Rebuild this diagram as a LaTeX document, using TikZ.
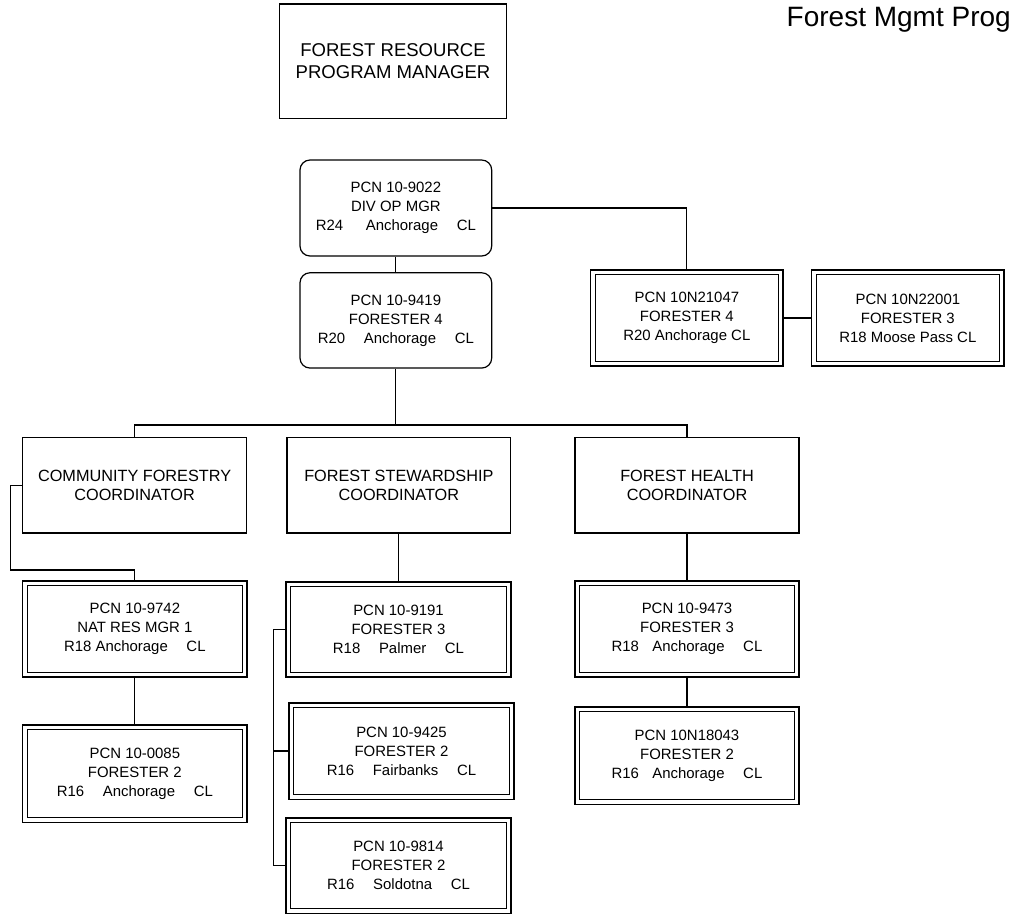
\documentclass[tikz,border=0pt]{standalone}
\usepackage{fontspec}
\setmainfont{Liberation Sans}
\usepackage{tikz}
\usetikzlibrary{calc}
\usetikzlibrary{positioning}

\newcommand{\gap}{\hspace{14pt}}

\begin{document}
\begin{tikzpicture}[
    x=0.75pt, y=-0.75pt,
    boxsize/.style 2 args={minimum width=#1*0.75pt, minimum height=#2*0.75pt},
    plainbox/.style={draw, line width=0.9pt, inner sep=0pt, align=center},
    roundbox/.style={plainbox, rounded corners=7.5pt,
      font=\fontsize{11.2}{14.3}\selectfont},
    coordbox/.style={plainbox, font=\fontsize{12.2}{14.5}\selectfont},
    pcnbox/.style={draw, line width=0.8pt, double, double distance=2.6pt,
      inner sep=0pt, outer sep=2.1pt, align=center,
      font=\fontsize{11.2}{14.3}\selectfont},
    link/.style={line width=0.9pt}
  ]

  \useasboundingbox (0,0) rectangle (1009,915);

  \node [anchor=base west, font=\fontsize{21}{25}\selectfont] (title) at (782,26) {Forest Mgmt Prog};

  \node [plainbox, boxsize={227.4}{114.3}, font=\fontsize{13.9}{17}\selectfont] (mgr) at (393,61.2)
    {FOREST RESOURCE\\PROGRAM MANAGER};

  \node [roundbox, boxsize={191.7}{96}] (divop) at (395.85,208)
    {PCN 10-9022\\DIV OP MGR\\R24\hspace{17pt}Anchorage\gap CL};
  \node [roundbox, boxsize={191.7}{95.3}] (forester4) at (395.85,320.4)
    {PCN 10-9419\\FORESTER 4\\R20\gap Anchorage\gap CL};

  \node [pcnbox, boxsize={187.8}{91.5}] (n21047) at (686.85,318)
    {PCN 10N21047\\FORESTER 4\\R20 Anchorage CL};
  \node [pcnbox, boxsize={187.8}{91.5}] (n22001) at (907.85,318)
    {PCN 10N22001\\FORESTER 3\\R18 Moose Pass CL};

  % coordinators
  \node [coordbox, boxsize={224.2}{95.3}] (commcoord) at (134.6,485.4)
    {COMMUNITY FORESTRY\\COORDINATOR};
  \node [coordbox, boxsize={223.7}{95.3}] (stewcoord) at (398.85,485.4)
    {FOREST STEWARDSHIP\\COORDINATOR};
  \node [coordbox, boxsize={224}{95.3}] (healthcoord) at (687,485.4)
    {FOREST HEALTH\\COORDINATOR};

  \node [pcnbox, boxsize={219.8}{91.5}] (n9742) at (134.85,629)
    {PCN 10-9742\\NAT RES MGR 1\\R18 Anchorage\gap CL};
  \node [pcnbox, boxsize={219.8}{92.5}] (n0085) at (134.85,773.5)
    {PCN 10-0085\\FORESTER 2\\R16\gap Anchorage\gap CL};

  \node [pcnbox, boxsize={220.5}{90.5}] (n9191) at (398.5,629.5)
    {PCN 10-9191\\FORESTER 3\\R18\gap Palmer\gap CL};
  \node [pcnbox, boxsize={220.5}{91.5}] (n9425) at (401.5,751)
    {PCN 10-9425\\FORESTER 2\\R16\gap Fairbanks\gap CL};
  \node [pcnbox, boxsize={220.5}{90.5}] (n9814) at (398.5,865.5)
    {PCN 10-9814\\FORESTER 2\\R16\gap Soldotna\gap CL};

  \node [pcnbox, boxsize={219.5}{91.5}] (n9473) at (687,629)
    {PCN 10-9473\\FORESTER 3\\R18\hspace{10pt}Anchorage\gap CL};
  \node [pcnbox, boxsize={219.5}{92.5}] (n18043) at (687,755.5)
    {PCN 10N18043\\FORESTER 2\\R16\hspace{10pt}Anchorage\gap CL};

  % connectors
  \coordinate (bar) at (395.85,425);
  \draw [link] (divop) -- (forester4);
  \draw [link] (divop.east) -| (n21047.north);
  \draw [link] (n21047) -- (n22001);
  \draw [link] (forester4.south) -- (bar);
  \draw [link] (commcoord.north) |- (bar) -| (healthcoord.north);

  \draw [link] (commcoord.west) -| (10.5,570) -| (n9742.north);
  \draw [link] (n9742) -- (n0085);

  \draw [link] (stewcoord.south) -- (stewcoord.south |- n9191.north);
  \draw [link] (n9191.west) -- ++(-12,0) coordinate (brk) |- (n9814.west);
  \draw [link] (n9425.west) -- (brk |- n9425.west);

  \draw [link] (healthcoord) -- (n9473);
  \draw [link] (n9473) -- (n18043);

\end{tikzpicture}
\end{document}
